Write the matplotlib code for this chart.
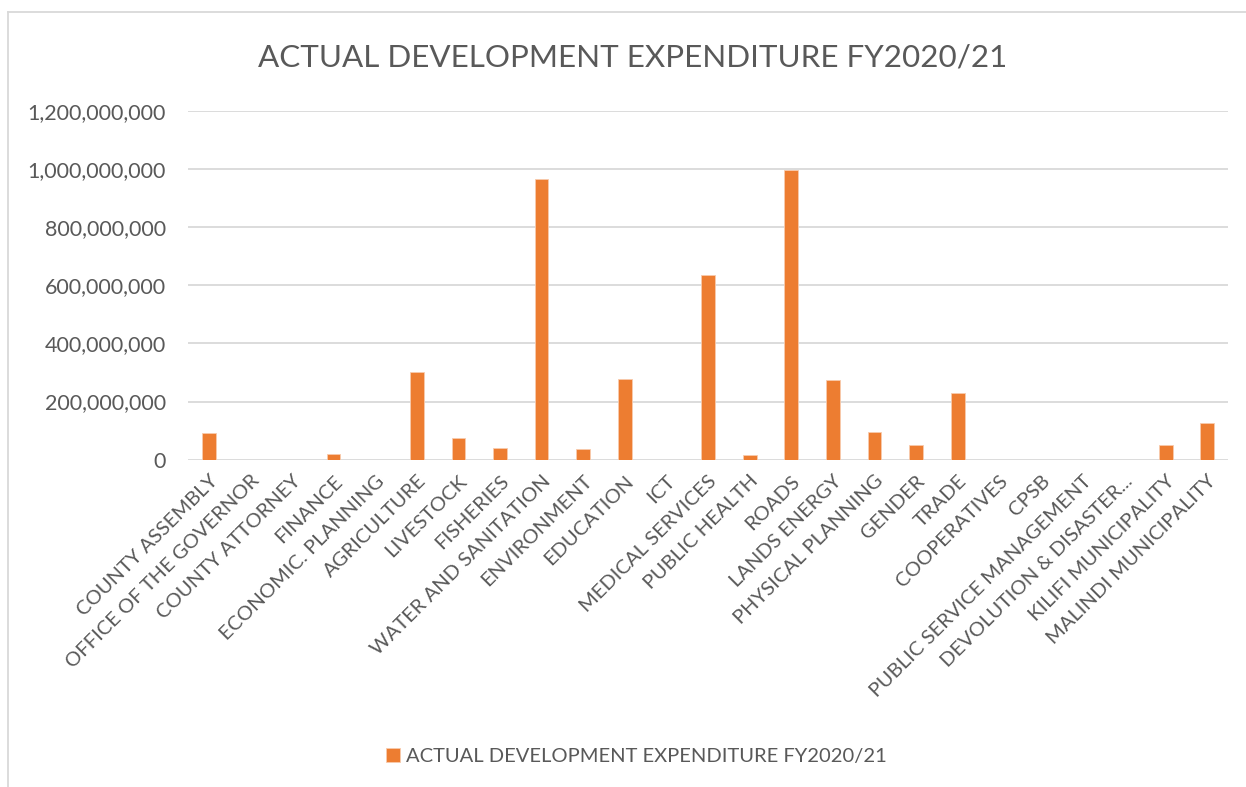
import numpy as np
import matplotlib
matplotlib.use('Agg')
import matplotlib.pyplot as plt
from matplotlib.ticker import FuncFormatter
from matplotlib.lines import Line2D

departments = [
    'COUNTY ASSEMBLY', 'OFFICE OF THE GOVERNOR', 'COUNTY ATTORNEY', 'FINANCE',
    'ECONOMIC. PLANNING', 'AGRICULTURE', 'LIVESTOCK', 'FISHERIES',
    'WATER AND SANITATION', 'ENVIRONMENT', 'EDUCATION', 'ICT',
    'MEDICAL SERVICES', 'PUBLIC HEALTH', 'ROADS', 'LANDS ENERGY',
    'PHYSICAL PLANNING', 'GENDER', 'TRADE', 'COOPERATIVES', 'CPSB',
    'PUBLIC SERVICE MANAGEMENT', 'DEVOLUTION & DISASTER...',
    'KILIFI MUNICIPALITY', 'MALINDI MUNICIPALITY',
]
# actual development expenditure, KES
expenditure = [
    93e6, 0, 0, 19.5e6, 0, 303e6, 73.5e6, 39e6, 966e6, 36e6, 278e6, 0,
    634e6, 16e6, 996e6, 274e6, 96e6, 50.5e6, 228e6, 0, 0, 0, 0, 51.6e6, 127e6,
]
series_name = 'ACTUAL DEVELOPMENT EXPENDITURE FY2020/21'
y_ticks = [0, 200e6, 400e6, 600e6, 800e6, 1000e6, 1200e6]

text_color = '#595959'
bar_color = '#ED7D31'
grid_color = '#D9D9D9'

plt.rcParams['font.family'] = ['Lato', 'DejaVu Sans']

fig = plt.figure(figsize=(12.46, 7.87), dpi=100, facecolor='w')
ax = fig.add_axes([0.1509, 0.4159, 0.8347, 0.4434])

x = np.arange(len(departments))
ax.bar(x, expenditure, width=0.33, color=bar_color, edgecolor='#F8CBAD',
       linewidth=0.6, label=series_name, zorder=3)

ax.set_xlim(-0.5, len(departments) - 0.5)
ax.set_ylim(0, 1200e6)
ax.set_yticks(y_ticks)
ax.yaxis.set_major_formatter(FuncFormatter(lambda v, p: '{:,.0f}'.format(v)))
ax.grid(axis='y', color=grid_color, linewidth=1.3, zorder=0)
for s in ax.spines.values():
    s.set_visible(False)
ax.tick_params(axis='both', length=0, colors=text_color)
ax.tick_params(axis='y', labelsize=15.5, pad=16)
ax.set_xticks(x)
ax.set_xticklabels(departments, rotation=45, ha='right', rotation_mode='anchor',
                   fontsize=14.5, color=text_color)
ax.tick_params(axis='x', pad=9)

fig.text(0.508, 0.927, series_name, ha='center', va='center', fontsize=22.6,
         color=text_color)

fig.legend(loc='center', bbox_to_anchor=(0.511, 0.039), frameon=False,
           fontsize=14.5, handlelength=0.69, handleheight=0.69,
           handletextpad=0.3, labelcolor=text_color)

# chart area border (left and top edges visible in the crop)
fig.add_artist(Line2D([0.0066, 0.0066], [0.0, 0.985], transform=fig.transFigure,
                      color=grid_color, linewidth=1.3))
fig.add_artist(Line2D([0.0066, 1.0], [0.985, 0.985], transform=fig.transFigure,
                      color=grid_color, linewidth=1.3))

fig.savefig('out.png', dpi=100, facecolor='w')
